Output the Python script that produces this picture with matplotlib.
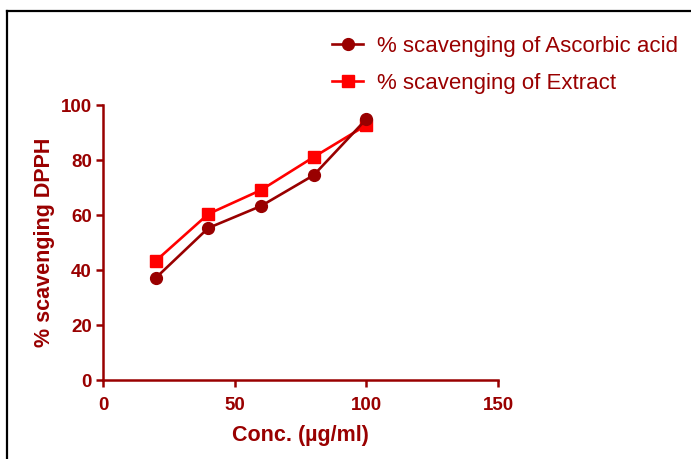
import matplotlib
matplotlib.use("Agg")
import matplotlib.pyplot as plt
from matplotlib.lines import Line2D

conc = [20, 40, 60, 80, 100]
ascorbic = [37.1, 55.3, 63.3, 74.5, 94.9]
extract = [43.3, 60.4, 69.1, 81.1, 92.7]
xticks = [0, 50, 100, 150]
yticks = [0, 20, 40, 60, 80, 100]

dark = "#990000"
red = "#FF0000"
plt.rcParams['font.family'] = ['Liberation Sans', 'DejaVu Sans']

fig = plt.figure(figsize=(6.91, 4.59), dpi=100)
ax = fig.add_axes([0.149, 0.172, 0.5717, 0.599])
ax.plot(conc, ascorbic, color=dark, lw=1.9, marker='o', ms=8.5, label='% scavenging of Ascorbic acid', clip_on=False, zorder=3)
ax.plot(conc, extract, color=red, lw=1.9, marker='s', ms=8.5, label='% scavenging of Extract', clip_on=False, zorder=2)
ax.set_xlim(0, 150)
ax.set_ylim(0, 100)
ax.set_xticks(xticks)
ax.set_yticks(yticks)
for s in ['top', 'right']:
    ax.spines[s].set_visible(False)
for s in ['left', 'bottom']:
    ax.spines[s].set_color(dark)
    ax.spines[s].set_linewidth(1.8)
ax.tick_params(colors=dark, width=1.8, length=5, labelsize=13.5)
ax.tick_params(axis='x', pad=7)
ax.tick_params(axis='y', pad=3)
for t in ax.get_xticklabels() + ax.get_yticklabels():
    t.set_fontweight('bold')
ax.set_xlabel('Conc. (µg/ml)', color=dark, fontsize=15.5, fontweight='bold', labelpad=8)
ax.set_ylabel('% scavenging DPPH', color=dark, fontsize=15.5, fontweight='bold', labelpad=4)
leg = fig.legend(loc='upper left', bbox_to_anchor=(0.452, 0.966), frameon=False, fontsize=16,
                 handlelength=1.4, labelspacing=0.72, handletextpad=0.6)
for t in leg.get_texts():
    t.set_color(dark)
fig.add_artist(Line2D([0.0095, 0.0095], [0.0, 0.976], color='black', lw=1.6, transform=fig.transFigure))
fig.add_artist(Line2D([0.0095, 1.0], [0.976, 0.976], color='black', lw=1.6, transform=fig.transFigure))
fig.savefig('out.png', dpi=100)
